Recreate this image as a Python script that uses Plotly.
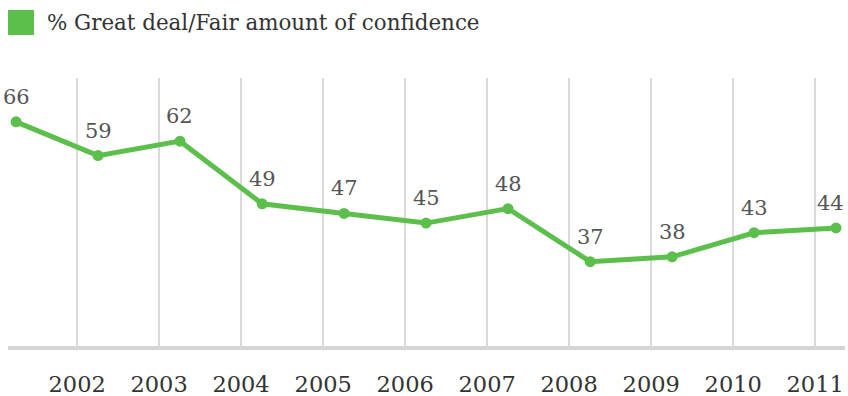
import plotly.graph_objects as go

# Data
poll_dates = ["2001-04-04", "2002-04-04", "2003-04-04", "2004-04-04", "2005-04-04",
              "2006-04-04", "2007-04-04", "2008-04-04", "2009-04-04", "2010-04-04",
              "2011-04-04"]
confidence = [66, 59, 62, 49, 47, 45, 48, 37, 38, 43, 44]
tick_dates = ["2002-01-01", "2003-01-01", "2004-01-01", "2005-01-01", "2006-01-01",
              "2007-01-01", "2008-01-01", "2009-01-01", "2010-01-01", "2011-01-01"]
tick_labels = ["2002", "2003", "2004", "2005", "2006", "2007", "2008", "2009", "2010", "2011"]
series_name = "% Great deal/Fair amount of confidence"

GREEN = "#5cbf4c"
FONT = "DejaVu Serif"
W, H = 848, 396
M = dict(l=8, r=3, t=78, b=50)

fig = go.Figure()
fig.add_trace(go.Scatter(
    x=poll_dates, y=confidence, mode="lines+markers",
    line=dict(color=GREEN, width=5),
    marker=dict(color=GREEN, size=11),
    name=series_name, showlegend=False, cliponaxis=False,
    hoverinfo="skip",
))

n = len(confidence)
for i, (d, v) in enumerate(zip(poll_dates, confidence)):
    fig.add_annotation(x=d, y=v, text=str(v), showarrow=False, yshift=25,
                       xshift=(-6 if i == n - 1 else 0),
                       font=dict(family=FONT, size=21, color="#555555"))

# Legend (manual)
fig.add_shape(type="rect", xref="paper", yref="paper",
              x0=(8 - M["l"]) / (W - M["l"] - M["r"]),
              x1=(34 - M["l"]) / (W - M["l"] - M["r"]),
              y0=(H - M["b"] - 35) / (H - M["t"] - M["b"]),
              y1=(H - M["b"] - 10) / (H - M["t"] - M["b"]),
              fillcolor=GREEN, line=dict(width=0))
fig.add_annotation(xref="paper", yref="paper",
                   x=(45 - M["l"]) / (W - M["l"] - M["r"]),
                   y=(H - M["b"] - 22) / (H - M["t"] - M["b"]),
                   xanchor="left", yanchor="middle", showarrow=False,
                   text=series_name,
                   font=dict(family=FONT, size=21.4, color="#333333"))

fig.update_layout(
    width=W, height=H, margin=M,
    paper_bgcolor="white", plot_bgcolor="white",
    showlegend=False,
    xaxis=dict(
        type="date", range=["2001-02-27", "2011-05-14"],
        tickmode="array", tickvals=tick_dates, ticktext=tick_labels,
        showgrid=True, gridcolor="#dadada", gridwidth=1.5,
        showline=True, linecolor="#d6d6d6", linewidth=4,
        ticks="", ticklabelstandoff=15, automargin=False,
        tickfont=dict(family=FONT, size=22.5, color="#333333"),
        zeroline=False, fixedrange=True,
    ),
    yaxis=dict(range=[19.5, 75.1], showgrid=False, showticklabels=False,
               zeroline=False, showline=False, fixedrange=True, automargin=False),
)

fig.write_html("out.html")
